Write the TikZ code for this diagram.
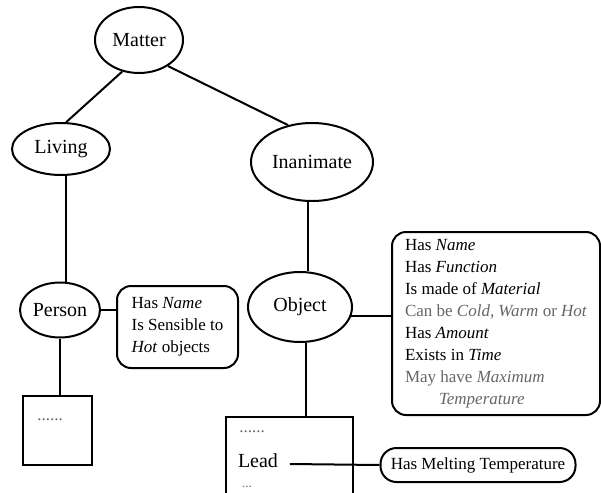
\documentclass[tikz,border=0pt]{standalone}
\usepackage{fontspec}
\setmainfont{Liberation Serif}
\usetikzlibrary{shapes.geometric}
\definecolor{faint}{gray}{0.4}
\begin{document}
\begin{tikzpicture}[x=1pt,y=-1pt,line width=2pt,
        note/.style={draw,rounded corners=14pt,inner sep=0pt,align=left,
                font=\fontsize{17}{22}\selectfont},
        box/.style={draw,inner sep=0pt},
        dots/.style={text=faint,font=\fontsize{17}{20}\selectfont,inner sep=0pt}]
        \clip (0,0) rectangle (601,492);
        \begin{scope}[every node/.style={ellipse,draw,inner sep=0pt,
                        font=\fontsize{20}{24}\selectfont}]
            \node (Matter) at (139,40) [minimum width=88pt,minimum height=66pt]{Matter};
            \node (Living) at (61,149) [minimum width=98pt,minimum height=52pt]{Living};
            \node (Inanimate) at (312,162) [minimum width=122pt,minimum height=78pt]{Inanimate};
            \node (Person) at (60,310) [minimum width=80pt,minimum height=55pt]{Person};
            \node (Object) at (300,307) [minimum width=104pt,minimum height=70pt]{Object};
        \end{scope}

        \node (PNote) at (177.5,327) [note,minimum width=121pt,minimum height=82pt]
            {Has \textit{Name}\\Is Sensible to\\\textit{Hot} objects};
        \node (ONote) at (496,323.5) [note,minimum width=208pt,minimum height=183pt]
            {Has \textit{Name}\\Has \textit{Function}\\Is made of \textit{Material}\\
             \textcolor{faint}{Can be \textit{Cold, Warm} or \textit{Hot}}\\
             Has \textit{Amount}\\Exists in \textit{Time}\\
             \textcolor{faint}{May have \textit{Maximum}}\\
             \hspace*{2em}\textcolor{faint}{\textit{Temperature}}};
        \node (PBox) at (57.5,430.5) [box,minimum width=69pt,minimum height=69pt]{};
        \node at (50,420) [dots]{......};
        \node (LeadBox) at (289.5,457) [box,minimum width=127pt,minimum height=80pt]{};
        \node at (252,432) [dots]{......};
        \node (LeadTxt) at (258,461) [inner sep=0pt,font=\fontsize{20}{24}\selectfont]{Lead};
        \node at (247,487) [dots,font=\fontsize{13}{15}\selectfont]{...};
        \node (Melt) at (478,465) [note,rounded corners=16pt,minimum width=195pt,
            minimum height=34pt]{Has Melting Temperature};

        \draw (Matter.242) -- (Living.79);
        \draw (Matter.318) -- (Inanimate.123);
        \draw ([xshift=5pt]Living.south) -- ([xshift=6pt]Person.north);
        \draw ([xshift=-4pt]Inanimate.south) -- ([xshift=8pt]Object.north);
        \draw (Person.south) -- (Person.south |- PBox.north);
        \draw (Person.east) -- (Person.east -| PNote.west);
        \draw (Object.-10) -- (Object.-10 -| ONote.west);
        \draw ([xshift=6pt]Object.south) -- ([xshift=6pt]Object.south |- LeadBox.north);
        \draw ([xshift=11pt,yshift=-3pt]LeadTxt.east) -- (Melt.west);
    \end{tikzpicture}
\end{document}
